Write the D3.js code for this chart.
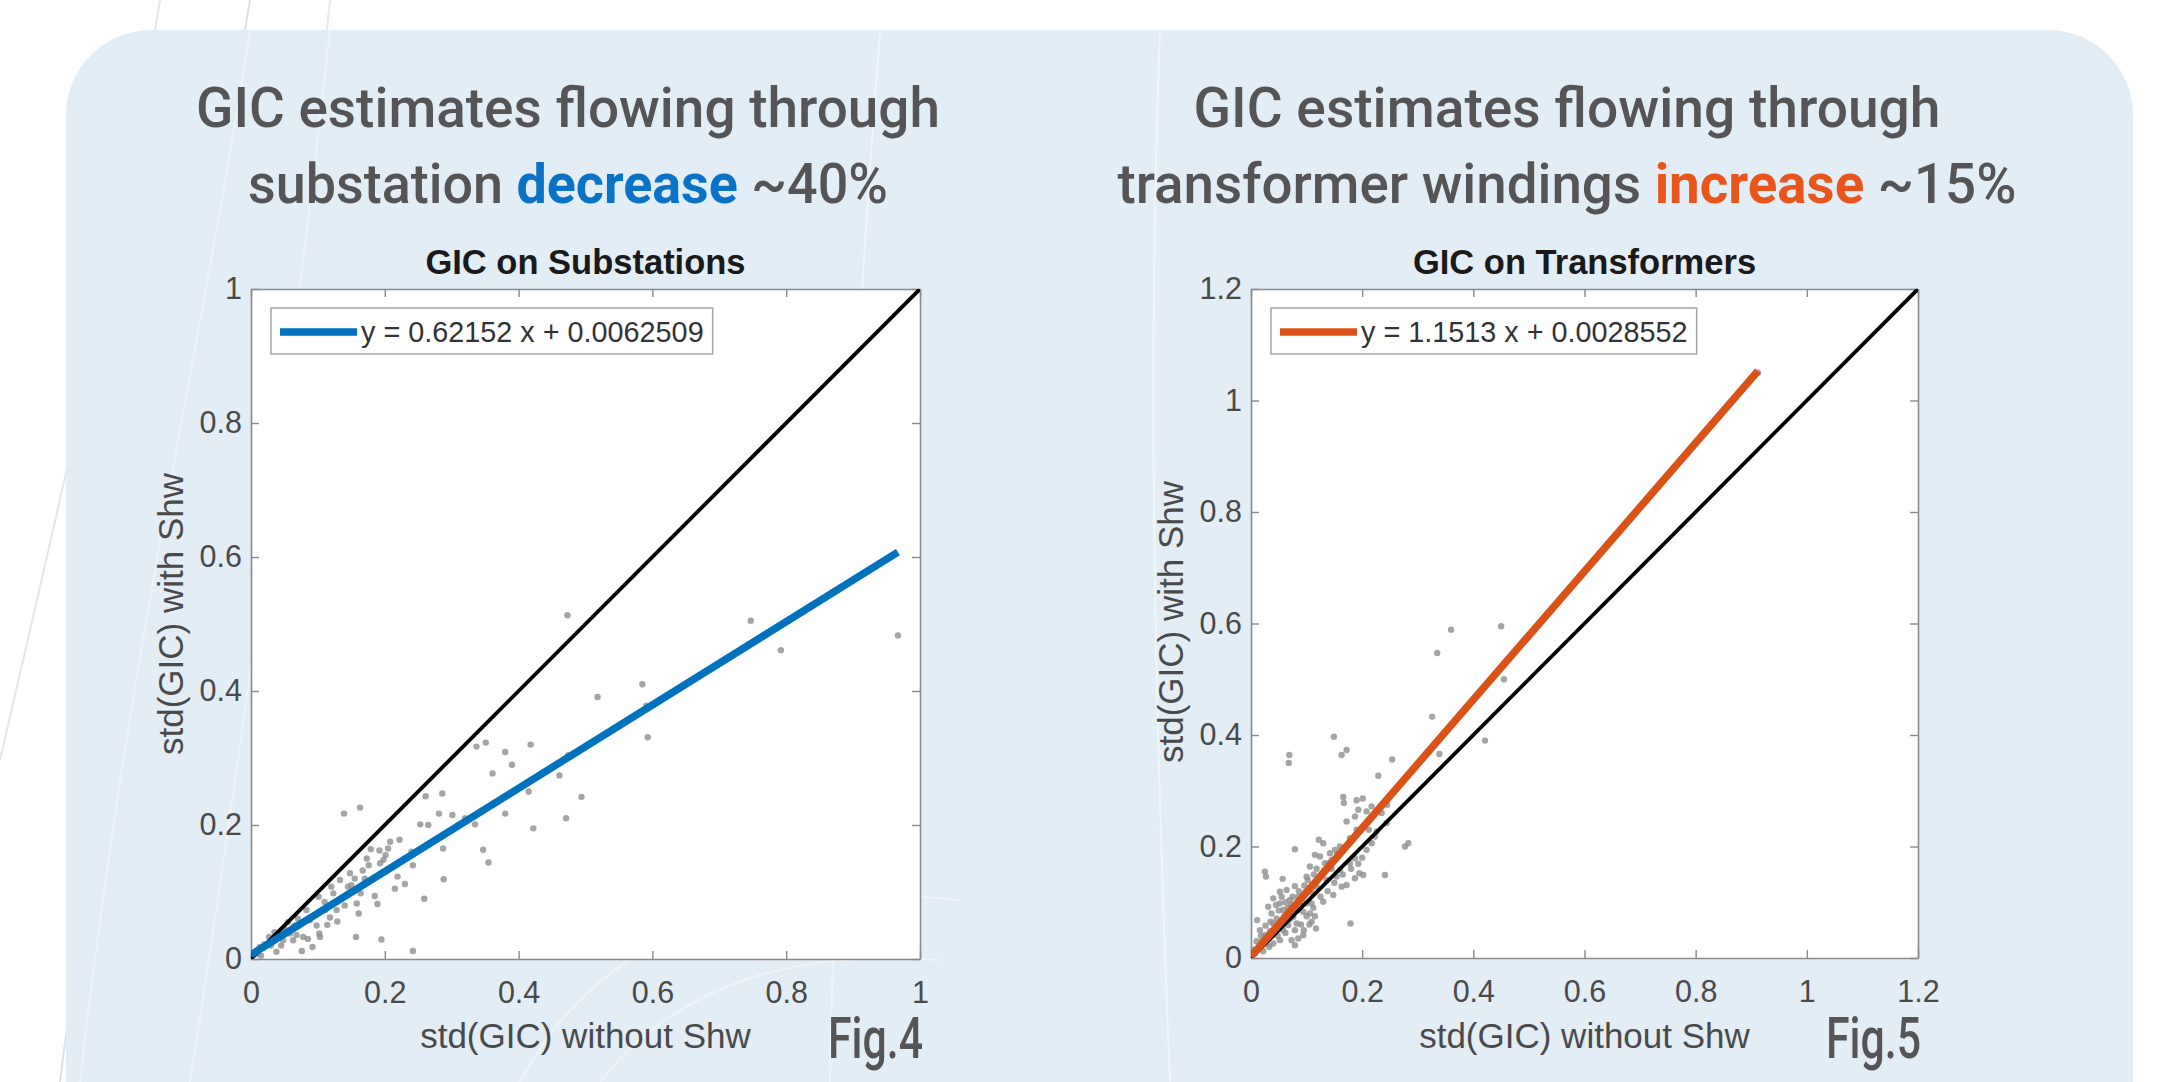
<!DOCTYPE html>
<html>
<head>
<meta charset="utf-8">
<script src="https://cdn.jsdelivr.net/npm/d3@7"></script>
<style>
  html, body { margin: 0; padding: 0; background: #ffffff; }
  svg { display: block; }
</style>
</head>
<body>
<svg id="chart" width="2161" height="1082"></svg>
<script>
// ---------------- DATA ----------------
// Fig.4 – GIC on Substations (x: std without Shw, y: std with Shw)
const subX = [0.473,0.747,0.792,0.967,0.585,0.518,0.593,0.591,0.337,0.351,0.380,0.418,0.361,0.461,0.474,0.494,0.471,0.422,0.380,0.335,0.301,0.281,0.286,0.261,0.253,0.139,0.163,0.347,0.355,0.287,0.288,0.259,0.242,0.215,0.219,0.208,0.222,0.198,0.201,0.193,0.179,0.192,0.173,0.167,0.148,0.133,0.145,0.164,0.158,0.161,0.185,0.189,0.128,0.129,0.114,0.102,0.092,0.076,0.078,0.068,0.058,0.038,0.027,0.157,0.195,0.242,0.101,0.111,0.088,0.103,0.123,0.083,0.048,0.013,0.020,0.063,0.085,0.050,0.065,0.070,0.095,0.110,0.120,0.135,0.150,0.170,0.176,0.205,0.215,0.230,0.240,0.010,0.030,0.040,0.055,0.008,0.015,0.035,0.045,0.098,0.118,0.140,0.155,0.182,0.200,0.230,0.265,0.310,0.390,0.415,0.320];
const subY = [0.513,0.505,0.461,0.483,0.410,0.391,0.331,0.378,0.317,0.323,0.309,0.320,0.277,0.274,0.304,0.242,0.210,0.195,0.217,0.201,0.215,0.217,0.247,0.243,0.201,0.217,0.226,0.163,0.144,0.165,0.119,0.090,0.140,0.105,0.123,0.175,0.178,0.148,0.155,0.143,0.164,0.162,0.150,0.132,0.128,0.118,0.108,0.098,0.083,0.068,0.094,0.082,0.073,0.056,0.051,0.038,0.018,0.012,0.033,0.036,0.038,0.011,0.033,0.033,0.029,0.012,0.093,0.073,0.058,0.033,0.098,0.073,0.028,0.018,0.022,0.028,0.030,0.045,0.050,0.060,0.065,0.085,0.108,0.090,0.110,0.120,0.140,0.165,0.140,0.150,0.160,0.008,0.020,0.035,0.055,0.012,0.005,0.040,0.020,0.050,0.062,0.080,0.120,0.120,0.130,0.112,0.200,0.200,0.290,0.250,0.210];
const subFit = [0.62152, 0.0062509];           // slope, intercept
const subTicks = [0, 0.2, 0.4, 0.6, 0.8, 1];
const subTickLabels = ["0", "0.2", "0.4", "0.6", "0.8", "1"];

// Fig.5 – GIC on Transformers
const trX = [0.912,0.360,0.450,0.335,0.455,0.326,0.339,0.421,0.149,0.069,0.068,0.163,0.172,0.254,0.229,0.166,0.167,0.190,0.201,0.172,0.187,0.193,0.208,0.217,0.226,0.244,0.277,0.283,0.079,0.122,0.130,0.115,0.124,0.142,0.133,0.151,0.106,0.025,0.027,0.057,0.100,0.193,0.195,0.202,0.241,0.187,0.172,0.163,0.148,0.130,0.079,0.064,0.052,0.040,0.052,0.070,0.085,0.109,0.106,0.109,0.117,0.094,0.179,0.011,0.016,0.025,0.040,0.037,0.031,0.046,0.058,0.073,0.079,0.085,0.094,0.079,0.067,0.028,0.016,0.007,0.040,0.052,0.058,0.076,0.085,0.100,0.112,0.118,0.136,0.154,0.160,0.178,0.187,0.208,0.217,0.223,0.060,0.066,0.072,0.080,0.088,0.092,0.098,0.105,0.110,0.120,0.126,0.132,0.140,0.145,0.118,0.096,0.086,0.075,0.062,0.050,0.044,0.034,0.030,0.020,0.012,0.022,0.033,0.048,0.062,0.070,0.090,0.100,0.112,0.125,0.138,0.150,0.165,0.180,0.200,0.212,0.235,0.245,0.190,0.178,0.160,0.155,0.145,0.082,0.095,0.105,0.115,0.005,0.010,0.018,0.026,0.035,0.045,0.055,0.102,0.113];
const trY = [1.050,0.589,0.595,0.547,0.500,0.433,0.366,0.390,0.397,0.364,0.350,0.364,0.373,0.356,0.327,0.289,0.278,0.283,0.286,0.245,0.254,0.266,0.263,0.272,0.227,0.242,0.200,0.206,0.195,0.212,0.206,0.185,0.182,0.188,0.170,0.194,0.164,0.155,0.146,0.142,0.146,0.169,0.152,0.149,0.149,0.143,0.131,0.128,0.113,0.101,0.129,0.122,0.119,0.107,0.098,0.104,0.110,0.098,0.080,0.065,0.053,0.083,0.062,0.068,0.050,0.041,0.062,0.080,0.092,0.071,0.086,0.032,0.023,0.035,0.041,0.050,0.059,0.026,0.020,0.008,0.026,0.032,0.050,0.074,0.086,0.098,0.116,0.128,0.140,0.146,0.158,0.170,0.179,0.194,0.206,0.218,0.075,0.090,0.095,0.088,0.098,0.108,0.118,0.125,0.132,0.140,0.150,0.158,0.170,0.176,0.160,0.130,0.120,0.110,0.100,0.085,0.055,0.048,0.035,0.030,0.015,0.012,0.020,0.040,0.045,0.070,0.060,0.075,0.090,0.110,0.120,0.135,0.150,0.160,0.180,0.230,0.260,0.275,0.230,0.215,0.200,0.185,0.160,0.062,0.050,0.060,0.075,0.015,0.030,0.040,0.058,0.065,0.095,0.110,0.140,0.150];
const trFit = [1.1513, 0.0028552];
const trTicks = [0, 0.2, 0.4, 0.6, 0.8, 1, 1.2];
const trTickLabels = ["0", "0.2", "0.4", "0.6", "0.8", "1", "1.2"];

// ---------------- DRAW ----------------
const svg = d3.select("#chart");
const W = 2161, H = 1082;
const BLUE = "#0072BD", ORANGE = "#D95319";
const SANS = "'Liberation Sans', Arial, sans-serif";

// background panel
svg.append("rect").attr("x", 0).attr("y", 0).attr("width", W).attr("height", H).attr("fill", "#ffffff");
const deco = svg.append("g").attr("fill", "none");
[["M250,0 C200,300 120,600 60,1082", "#dde3ea"],
 ["M330,0 C300,300 250,700 190,1082", "#e6ebf0"],
 ["M160,0 C120,250 60,500 0,760", "#e2e7ec"]].forEach(([d, c]) =>
  deco.append("path").attr("d", d).attr("stroke", c).attr("stroke-width", 2));
svg.append("rect").attr("x", 66).attr("y", 30).attr("width", 2067).attr("height", 1140)
  .attr("rx", 85).attr("ry", 85).attr("fill", "#e3edf6");
const deco2 = svg.append("g").attr("fill", "none").attr("stroke", "#f2f6fa").attr("stroke-width", 2).attr("opacity", 0.8);
["M250,30 C205,330 130,640 80,1082",
 "M330,30 C300,300 250,700 190,1082",
 "M880,30 C860,300 840,600 830,1082",
 "M1160,30 C1150,300 1150,600 1170,1082",
 "M520,1082 C600,930 760,880 960,900",
 "M600,1082 C680,980 800,950 940,960"].forEach(d => deco2.append("path").attr("d", d));

// big headings
const headFont = "Roboto, 'Open Sans', sans-serif";
function heading(cx, y, parts, len) {
  const t = svg.append("text").attr("x", cx).attr("y", y).attr("text-anchor", "middle")
    .attr("font-family", headFont).attr("font-size", 55).attr("fill", "#555557")
    .attr("textLength", len).attr("lengthAdjust", "spacingAndGlyphs");
  parts.forEach(p => t.append("tspan").text(p.t).attr("fill", p.c || "#555557").attr("font-weight", p.b ? 700 : 500));
}
heading(568, 127, [{t: "GIC estimates flowing through"}], 744);
heading(568, 203, [{t: "substation "}, {t: "decrease", c: "#0a73c6", b: true}, {t: " ~40%"}], 640);
heading(1567, 127, [{t: "GIC estimates flowing through"}], 747);
heading(1567, 203, [{t: "transformer windings "}, {t: "increase", c: "#e8561e", b: true}, {t: " ~15%"}], 899);

function panel(cfg) {
  const x = d3.scaleLinear().domain(cfg.domain).range([cfg.x0, cfg.x1]);
  const y = d3.scaleLinear().domain(cfg.domain).range([cfg.y1, cfg.y0]);
  const g = svg.append("g");
  g.append("rect").attr("x", cfg.x0).attr("y", cfg.y0)
    .attr("width", cfg.x1 - cfg.x0).attr("height", cfg.y1 - cfg.y0).attr("fill", "#ffffff");

  const fmt = (d) => cfg.labels[cfg.ticks.indexOf(d)];
  const style = (sel) => {
    sel.select(".domain").attr("stroke", "#8a8a8a").attr("stroke-width", 1.6);
    sel.selectAll(".tick line").attr("stroke", "#8a8a8a").attr("stroke-width", 1.4);
    sel.selectAll(".tick text").attr("fill", "#4a4a4a")
      .attr("font-family", SANS).attr("font-size", 30.5);
  };
  g.append("g").attr("transform", `translate(0,${cfg.y1})`)
    .call(d3.axisBottom(x).tickValues(cfg.ticks).tickFormat(fmt).tickSizeInner(-8).tickSizeOuter(0).tickPadding(22))
    .call(style);
  g.append("g").attr("transform", `translate(0,${cfg.y0})`)
    .call(d3.axisTop(x).tickValues(cfg.ticks).tickFormat("").tickSizeInner(-8).tickSizeOuter(0))
    .call(style);
  g.append("g").attr("transform", `translate(${cfg.x0},0)`)
    .call(d3.axisLeft(y).tickValues(cfg.ticks).tickFormat(fmt).tickSizeInner(-8).tickSizeOuter(0).tickPadding(9))
    .call(style);
  g.append("g").attr("transform", `translate(${cfg.x1},0)`)
    .call(d3.axisRight(y).tickValues(cfg.ticks).tickFormat("").tickSizeInner(-8).tickSizeOuter(0))
    .call(style);

  // scatter
  g.append("g").selectAll("circle").data(cfg.xs.map((v, i) => [v, cfg.ys[i]])).join("circle")
    .attr("cx", d => x(d[0])).attr("cy", d => y(d[1])).attr("r", 3.2)
    .attr("fill", "#8f8f8f").attr("opacity", 0.8);

  // fit line
  const xmax = d3.max(cfg.xs);
  const f = v => cfg.fit[0] * v + cfg.fit[1];
  const clip = "clip" + cfg.id;
  svg.append("clipPath").attr("id", clip).append("rect")
    .attr("x", cfg.x0).attr("y", cfg.y0).attr("width", cfg.x1 - cfg.x0).attr("height", cfg.y1 - cfg.y0);
  const lines = g.append("g").attr("clip-path", `url(#${clip})`);
  lines.append("line").attr("x1", x(cfg.domain[0])).attr("y1", y(cfg.domain[0]))
    .attr("x2", x(cfg.domain[1])).attr("y2", y(cfg.domain[1])).attr("stroke", "#000").attr("stroke-width", 3.8);
  lines.append("line").attr("x1", x(0)).attr("y1", y(f(0)))
    .attr("x2", x(xmax)).attr("y2", y(f(xmax))).attr("stroke", cfg.color).attr("stroke-width", 7.5);

  // legend
  const lg = g.append("g");
  const box = lg.append("rect").attr("x", cfg.x0 + 20).attr("y", cfg.y0 + 19).attr("height", 46)
    .attr("fill", "#ffffff").attr("stroke", "#a6a6a6").attr("stroke-width", 1.5);
  lg.append("line").attr("x1", cfg.x0 + 29).attr("x2", cfg.x0 + 106).attr("y1", cfg.y0 + 43).attr("y2", cfg.y0 + 43)
    .attr("stroke", cfg.color).attr("stroke-width", 7.5);
  const lt = lg.append("text").attr("x", cfg.x0 + 110).attr("y", cfg.y0 + 53)
    .attr("font-family", SANS).attr("font-size", 28.8).attr("fill", "#333")
    .text(`y = ${cfg.fit[0]} x + ${cfg.fit[1]}`);
  box.attr("width", 110 - 20 + lt.node().getComputedTextLength() + 9);

  // subplot title
  svg.append("text").attr("x", (cfg.x0 + cfg.x1) / 2).attr("y", 274).attr("text-anchor", "middle")
    .attr("font-family", SANS).attr("font-weight", 700)
    .attr("font-size", 34.5).attr("fill", "#1a1a1a").text(cfg.title);
  // axis labels
  svg.append("text").attr("x", (cfg.x0 + cfg.x1) / 2).attr("y", 1048).attr("text-anchor", "middle")
    .attr("font-family", SANS).attr("font-size", 35).attr("fill", "#4a4a4a")
    .text("std(GIC) without Shw");
  svg.append("text").attr("transform", `translate(${cfg.x0 - 68},${cfg.ylabY}) rotate(-90)`)
    .attr("text-anchor", "middle")
    .attr("font-family", SANS).attr("font-size", 35).attr("fill", "#4a4a4a")
    .text("std(GIC) with Shw");
  // fig label
  svg.append("text").attr("x", cfg.x1 + 3).attr("y", 1058).attr("text-anchor", "end")
    .attr("font-family", headFont).attr("font-size", 57).attr("font-weight", 500).attr("fill", "#555557")
    .attr("textLength", 95).attr("lengthAdjust", "spacingAndGlyphs").text(cfg.fig);
}

panel({id: "a", x0: 251, x1: 920, y0: 289, y1: 959, domain: [0, 1], ticks: subTicks, labels: subTickLabels,
       xs: subX, ys: subY, fit: subFit, color: BLUE, title: "GIC on Substations", fig: "Fig.4", ylabY: 614});
panel({id: "b", x0: 1251, x1: 1918, y0: 289, y1: 958, domain: [0, 1.2], ticks: trTicks, labels: trTickLabels,
       xs: trX, ys: trY, fit: trFit, color: ORANGE, title: "GIC on Transformers", fig: "Fig.5", ylabY: 622});
</script>
</body>
</html>
